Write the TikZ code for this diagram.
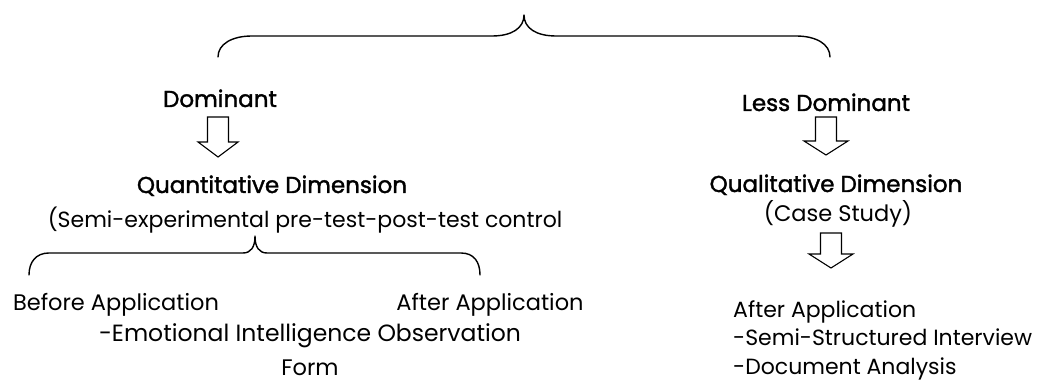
\documentclass[tikz,border=0pt]{standalone}
\usepackage{fontspec}
\setmainfont{Poppins}
\newfontfamily\medfont[FakeBold=1.6]{Poppins}
\begin{document}
\begin{tikzpicture}[x=1pt,y=-1pt,
  brace/.style={line width=1.4pt,line join=round,line cap=round},
  blockarrow/.style={line width=1.1pt,line join=miter,fill=white},
  head/.style={font=\fontsize{23}{27}\medfont,inner sep=0pt},
  txt/.style={font=\fontsize{22.5}{27}\selectfont,inner sep=0pt},
  txts/.style={font=\fontsize{22}{27}\selectfont,inner sep=0pt}]
\useasboundingbox (0,0) rectangle (1037,385);
% top brace
\coordinate (bL) at (218,57);
\coordinate (bR) at (830,57);
\coordinate (bT) at (524,15);
\draw[brace] (bL) .. controls (218,44) and (232,36) .. (252,36) -- (492,36)
  .. controls (512,36) and (524,28) .. (bT)
  .. controls (524,28) and (536,36) .. (556,36) -- (796,36)
  .. controls (816,36) and (830,44) .. (bR);
% left branch
\node[head,anchor=base] (dom) at (220,107) {Dominant};
\node[head,anchor=base] (quant) at (272,193) {Quantitative Dimension};
\node[txts,anchor=base] (semi) at (305,227) {(Semi-experimental pre-test-post-test control};
\coordinate (a1) at (218,117);
\draw[blockarrow] (a1) ++(-10.5,0) -- ++(0,25) -- ++(-9.5,0) -- ++(20,15) -- ++(20,-15) -- ++(-9.5,0) -- ++(0,-25) -- cycle;
% second brace
\coordinate (cL) at (29,275);
\coordinate (cR) at (480,275);
\coordinate (cT) at (255,236);
\draw[brace] (cL) .. controls (29,262) and (36,253) .. (49,253) -- (243,253)
  .. controls (251,253) and (255,247) .. (cT)
  .. controls (255,247) and (259,253) .. (267,253) -- (461,253)
  .. controls (474,253) and (480,262) .. (cR);
\node[txt,anchor=base] (before) at (116,310) {Before Application};
\node[txt,anchor=base] (afterL) at (490,310) {After Application};
\node[txt,anchor=base,font=\fontsize{23.5}{27}\selectfont] (emo) at (310,341) {-Emotional Intelligence Observation};
\node[txt,anchor=base] (form) at (310,375) {Form};
% right branch
\node[head,anchor=base] (less) at (826,111) {Less Dominant};
\coordinate (a2) at (826,117);
\draw[blockarrow] (a2) ++(-10.5,0) -- ++(0,24) -- ++(-11.5,0) -- ++(22,14) -- ++(22,-14) -- ++(-11.5,0) -- ++(0,-24) -- cycle;
\node[head,anchor=base] (qual) at (836,192) {Qualitative Dimension};
\node[txt,anchor=base] (case) at (838,222) {(Case Study)};
\coordinate (a3) at (831,233);
\draw[blockarrow] (a3) ++(-10.5,0) -- ++(0,21) -- ++(-11.5,0) -- ++(22,14) -- ++(22,-14) -- ++(-11.5,0) -- ++(0,-21) -- cycle;
\node[txts,anchor=base west] (afterR) at (733,317) {After Application};
\node[txts,anchor=base west] (ssi) at (733,345) {-Semi-Structured Interview};
\node[txts,anchor=base west] (doc) at (733,374) {-Document Analysis};
\end{tikzpicture}
\end{document}
